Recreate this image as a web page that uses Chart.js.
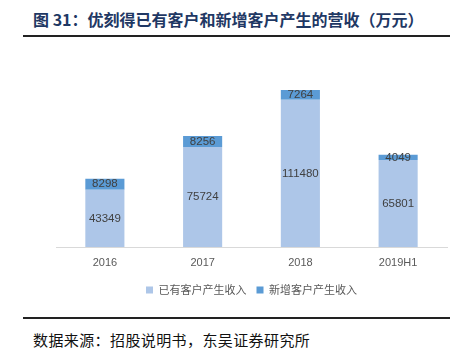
<!DOCTYPE html>
<html>
<head>
<meta charset="utf-8">
<script src="https://cdn.jsdelivr.net/npm/chart.js@4"></script>
<style>
  html, body { margin: 0; padding: 0; background: #fff; }
  #page { position: relative; width: 455px; height: 353px; overflow: hidden; }
  #title {
    position: absolute; left: 33px; top: 8px;
    font: bold 16px "Noto Sans CJK SC", sans-serif; color: #1f3864;
    line-height: 22px; white-space: nowrap;
  }
  .rule { position: absolute; left: 23px; width: 427px; height: 2px; background: #222; }
  #footer {
    position: absolute; left: 33px; top: 330px;
    font: 15px "Noto Sans CJK SC", sans-serif; color: #111;
    line-height: 20px; white-space: nowrap; letter-spacing: 0.4px;
  }
  #wrap { position: absolute; left: 0; top: 40px; width: 455px; height: 270px; }
</style>
</head>
<body>
<div id="page">
  <div id="title">图 31：优刻得已有客户和新增客户产生的营收（万元）</div>
  <div class="rule" style="top:35px"></div>
  <div id="wrap"><canvas id="chart"></canvas></div>
  <div class="rule" style="top:317px"></div>
  <div id="footer">数据来源：招股说明书，东吴证券研究所</div>
</div>
<script>
const categories = ["2016", "2017", "2018", "2019H1"];
const existingRevenue = [43349, 75724, 111480, 65801];
const newRevenue = [8298, 8256, 7264, 4049];
const seriesNames = ["已有客户产生收入", "新增客户产生收入"];

// write each value in the middle of its segment
const segmentLabels = {
  id: "segmentLabels",
  afterDatasetsDraw(chart) {
    const ctx = chart.ctx;
    ctx.save();
    ctx.font = '11.5px "Liberation Sans", Arial, sans-serif';
    ctx.fillStyle = "#404040";
    ctx.textAlign = "center";
    ctx.textBaseline = "middle";
    chart.data.datasets.forEach((ds, i) => {
      chart.getDatasetMeta(i).data.forEach((bar, j) => {
        const y = (bar.y + bar.base) / 2;
        ctx.fillText(String(ds.data[j]), bar.x, y);
      });
    });
    ctx.restore();
  }
};

new Chart(document.getElementById("chart"), {
  type: "bar",
  data: {
    labels: categories,
    datasets: [
      { label: seriesNames[0], data: existingRevenue, backgroundColor: "#adc6e8" },
      { label: seriesNames[1], data: newRevenue, backgroundColor: "#5b9bd5" }
    ]
  },
  options: {
    responsive: true,
    maintainAspectRatio: false,
    animation: false,
    layout: { padding: { left: 56, right: 8, top: 22, bottom: 4.5 } },
    datasets: { bar: { barPercentage: 0.4, categoryPercentage: 1, borderWidth: 0 } },
    scales: {
      x: {
        stacked: true,
        grid: { display: false, drawTicks: false, tickLength: 0 },
        border: { display: true, color: "#d9d9d9", width: 1 },
        ticks: { color: "#595959", font: { size: 11, family: '"Liberation Sans", Arial, sans-serif' }, padding: 9.5 },
        afterFit: s => { s.height = 27.5; }
      },
      y: { stacked: true, display: false, min: 0, max: 140000 }
    },
    plugins: {
      legend: {
        position: "bottom",
        labels: {
          boxWidth: 7, boxHeight: 7, padding: 10,
          color: "#595959",
          font: { size: 11, family: '"Noto Sans CJK SC", sans-serif' }
        }
      },
      tooltip: { enabled: false }
    }
  },
  plugins: [segmentLabels]
});
</script>
</body>
</html>
